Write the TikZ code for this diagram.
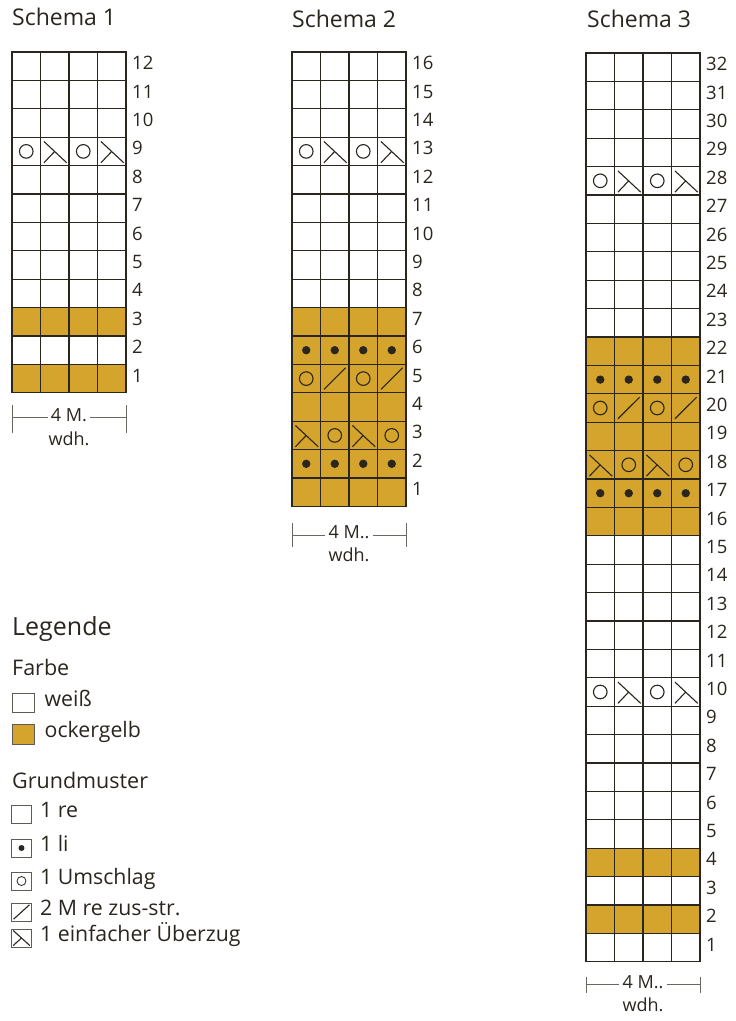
\documentclass[tikz,border=0pt]{standalone}
\usepackage{fontspec}
\setmainfont{Open Sans}
\usetikzlibrary{
  calc, % Punkte auf Kästchendiagonalen
  positioning % Legendentexte neben den Kästchen
}
\definecolor{ockergelb}{RGB}{212,164,45}
\definecolor{ink}{RGB}{42,38,30}

\begin{document}
\begin{tikzpicture}[
    x=1pt, y=-1pt, % Pixelmaß, y nach unten
    gridline/.style={draw=ink, line width=1.2pt},
    band/.style={fill=ockergelb},
    sym/.style={draw=ink, line width=1.1pt},
    txt/.style={inner sep=0pt, text=ink, text height=0.71em, text depth=0pt},
    heading/.style={txt, anchor=west, font=\fontsize{23}{23}\selectfont},
    subhead/.style={txt, anchor=west, font=\fontsize{21.5}{22}\selectfont},
    rownum/.style={txt, anchor=west, font=\fontsize{18.5}{19}\selectfont},
    item/.style={txt, anchor=west, font=\fontsize{21.3}{22}\selectfont},
    reptxt/.style={txt, inner xsep=3pt, font=\fontsize{18}{18}\selectfont},
    keybox/.style={draw=ink!75, line width=0.9pt, inner sep=0pt,
      minimum width=20pt, minimum height=18pt},
  ]
  \useasboundingbox (0,0) rectangle (736,1021);

  % Kästchengröße
  \def\cw{28.5pt}
  \def\ch{28.4pt}

  % Symbole: Spalte #1, Reihe #2, von unten links gezählt
  \def\yo#1#2{\draw[sym] ({#1-0.5},{#2-0.5}) circle[radius=6.8pt];}
  \def\knot#1#2{\fill[ink] ({#1-0.5},{#2-0.5}) circle[radius=4.2pt];}
  \def\ktog#1#2{\draw[sym] ({#1-0.88},{#2-0.88}) -- ({#1-0.12},{#2-0.12});}
  \def\skp#1#2{\draw[sym] ({#1-0.88},{#2-0.15}) -- ({#1-0.08},{#2-0.9})
    ({#1-0.5},{#2-0.5}) -- ({#1-0.88},{#2-0.9});}

  % Schema 1
  \begin{scope}[shift={(12,392.8)}, x=\cw, y=\ch]
    \foreach \row in {1,3} \fill[band] (0,\row-1) rectangle (4,\row);
    \foreach \c in {1,3} {\yo{\c}{9}\skp{\c+1}{9}}
  \end{scope}

  % Schema 2
  \begin{scope}[shift={(292,506.4)}, x=\cw, y=\ch]
    \fill[band] (0,0) rectangle (4,7);
    \foreach \row in {2,6} \foreach \c in {1,...,4} {\knot{\c}{\row}}
    \foreach \c in {1,3} {\skp{\c}{3}\yo{\c+1}{3}}
    \foreach \c in {1,3} {\yo{\c}{5}\ktog{\c+1}{5}}
    \foreach \c in {1,3} {\yo{\c}{13}\skp{\c+1}{13}}
  \end{scope}

  % Schema 3
  \begin{scope}[shift={(586,961.8)}, x=\cw, y=\ch]
    \fill[band] (0,15) rectangle (4,22);
    \foreach \row in {2,4} \fill[band] (0,\row-1) rectangle (4,\row);
    \foreach \row in {17,21} \foreach \c in {1,...,4} {\knot{\c}{\row}}
    \foreach \c in {1,3} {\skp{\c}{18}\yo{\c+1}{18}}
    \foreach \c in {1,3} {\yo{\c}{20}\ktog{\c+1}{20}}
    \foreach \row in {10,28} \foreach \c in {1,3} {\yo{\c}{\row}\skp{\c+1}{\row}}
  \end{scope}

  % Gitter, Reihennummern, Rapport
  \foreach \s/\x/\y/\n/\rep/\ta/\tm/\tb/\tw in {
      s1/12/392.8/12/4 M./12/25/40/49,
      s2/292/506.4/16/4 M../17/29/41/52,
      s3/586/961.8/32/4 M../15/23/31/46} {
    \begin{scope}[shift={(\x,\y)}, x=\cw, y=\ch]
      \draw[gridline] (0,0) rectangle (4,\n);
      \foreach \c in {1,2,3} \draw[gridline] (\c,0) -- (\c,\n);
      \foreach \row in {1,...,\n} \draw[gridline] (0,\row) -- (4,\row);
      \foreach \row in {1,...,\n}
        \node[rownum, xshift=6pt] (\s n\row) at (4,\row-0.5) {\row};
      \coordinate (\s la) at ([yshift=-\ta pt]0,0);
      \coordinate (\s lb) at ([yshift=-\tb pt]0,0);
      \coordinate (\s ra) at ([yshift=-\ta pt]4,0);
      \coordinate (\s rb) at ([yshift=-\tb pt]4,0);
      \node[reptxt] (\s rep) at ([yshift=-\tm pt]2,0) {\rep};
      \node[reptxt] (\s wdh) at ([yshift=-\tw pt]2,0) {wdh.};
      \draw[sym, draw=ink!70, line width=0.8pt] (\s la) -- (\s lb) (\s ra) -- (\s rb)
        (\s la |- \s rep) -- (\s rep.west) (\s rep.east) -- (\s ra |- \s rep);
    \end{scope}
  }

  % Überschriften
  \node[heading] (s1title) at (12,22) {Schema 1};
  \node[heading] (s2title) at (292,24) {Schema 2};
  \node[heading] (s3title) at (587,24) {Schema 3};

  % Legende
  \node[heading, font=\fontsize{25}{25}\selectfont] (legende) at (12,632) {Legende};
  \node[subhead] (farbe) at (12,672) {Farbe};
  \node[keybox, minimum width=22pt, minimum height=19pt] (kweiss) at (23,703) {};
  \node[item, right=10pt of kweiss] (tweiss) {weiß};
  \node[keybox, fill=ockergelb, minimum width=22pt, minimum height=20pt] (kocker) at (23,734) {};
  \node[item, right=10pt of kocker] (tocker) {ockergelb};

  \node[subhead] (grund) at (12,785) {Grundmuster};
  \node[keybox] (kre) at (21.5,814) {};
  \node[item, right=8pt of kre] (tre) {1 re};
  \node[keybox] (kli) at (21.5,848) {};
  \fill[ink] (kli.center) circle[radius=3pt];
  \node[item, right=8pt of kli] (tli) {1 li};
  \node[keybox] (kum) at (21.5,881) {};
  \draw[sym, line width=0.8pt] (kum.center) circle[radius=4.5pt];
  \node[item, right=8pt of kum] (tum) {1 Umschlag};
  \node[keybox] (kzus) at (21.5,912) {};
  \draw[sym] ($(kzus.south west)!0.12!(kzus.north east)$) -- ($(kzus.south west)!0.88!(kzus.north east)$);
  \node[item, right=8pt of kzus] (tzus) {2 M re zus-str.};
  \node[keybox] (kueb) at (21.5,938) {};
  \draw[sym] ($(kueb.north west)!0.1!(kueb.south east)$) -- ($(kueb.north west)!0.9!(kueb.south east)$)
    (kueb.center) -- ($(kueb.center)!0.8!(kueb.south west)$);
  \node[item, right=8pt of kueb] (tueb) {1 einfacher Überzug};
\end{tikzpicture}
\end{document}
